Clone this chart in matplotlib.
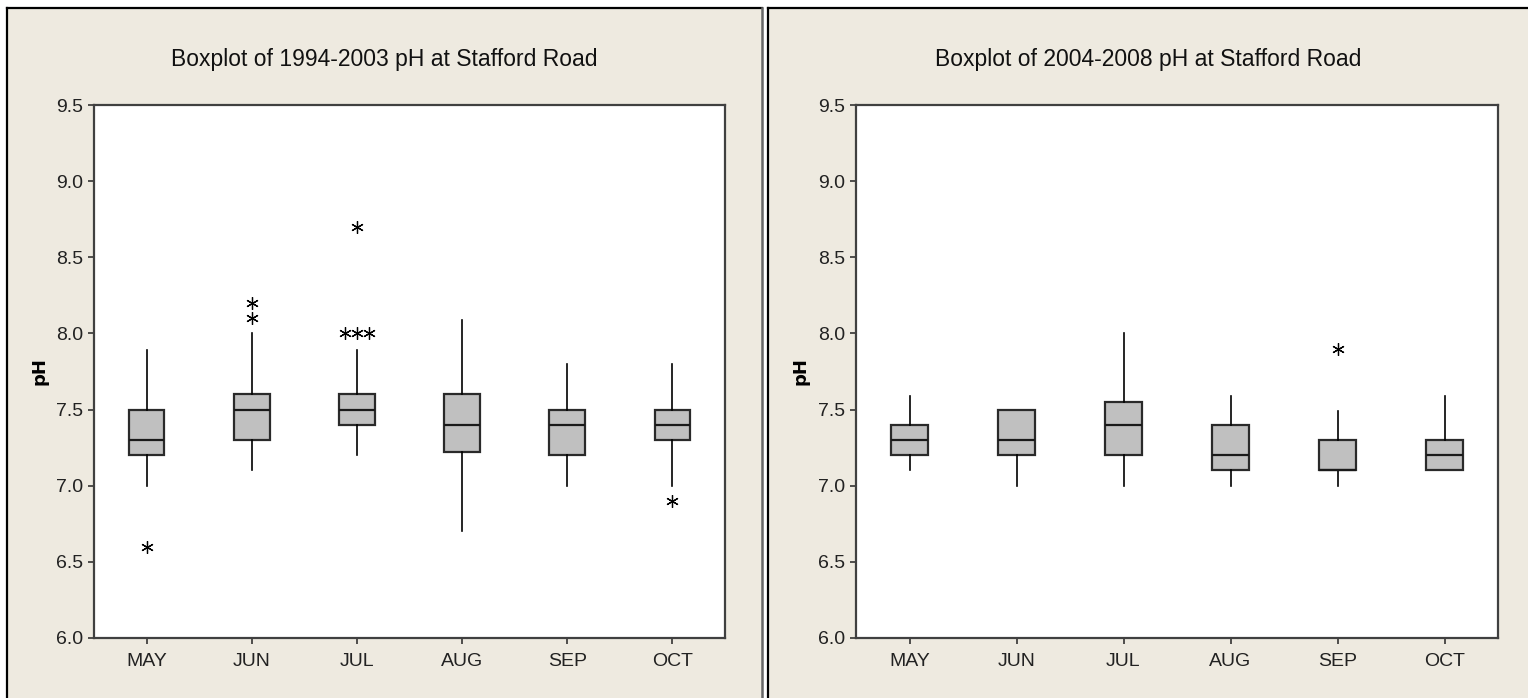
import numpy as np
import matplotlib
matplotlib.use('Agg')
from matplotlib import pyplot as plt
from matplotlib.patches import Rectangle
from matplotlib.lines import Line2D

months = ['MAY', 'JUN', 'JUL', 'AUG', 'SEP', 'OCT']

# 1994-2003 : whisker low, q1, median, q3, whisker high, outliers
early_whislo = [7.0, 7.1, 7.2, 6.7, 7.0, 7.0]
early_q1 = [7.2, 7.3, 7.4, 7.22, 7.2, 7.3]
early_med = [7.3, 7.5, 7.5, 7.4, 7.4, 7.4]
early_q3 = [7.5, 7.6, 7.6, 7.6, 7.5, 7.5]
early_whishi = [7.89, 8.0, 7.89, 8.09, 7.8, 7.8]
early_out = [[6.6], [8.1, 8.2], [8.0, 8.0, 8.0, 8.7], [], [], [6.9]]

# 2004-2008
late_whislo = [7.1, 7.0, 7.0, 7.0, 7.0, 7.1]
late_q1 = [7.2, 7.2, 7.2, 7.1, 7.1, 7.1]
late_med = [7.3, 7.3, 7.4, 7.2, 7.1, 7.2]
late_q3 = [7.4, 7.5, 7.55, 7.4, 7.3, 7.3]
late_whishi = [7.59, 7.5, 8.0, 7.59, 7.49, 7.59]
late_out = [[], [], [], [], [7.9], []]

yticks = [6.0, 6.5, 7.0, 7.5, 8.0, 8.5, 9.0, 9.5]

W, H = 1528, 698
BEIGE = '#eeeae0'
plt.rcParams['font.family'] = ['Liberation Sans', 'DejaVu Sans']


def fx(px):
    return px / W


def fy(py):
    return 1 - py / H


def draw_panel(fig, rect, title, title_x, whislo, q1, med, q3, whishi, outliers):
    ax = fig.add_axes(rect)
    stats = []
    for i in range(len(months)):
        stats.append(dict(whislo=whislo[i], q1=q1[i], med=med[i], q3=q3[i],
                          whishi=whishi[i], fliers=[], label=months[i]))
    pos = np.arange(1, len(months) + 1)
    ax.bxp(stats, positions=pos, widths=0.34, showcaps=False, showfliers=False,
           patch_artist=True,
           boxprops=dict(facecolor='#c0c0c0', edgecolor='#2a2a2a', linewidth=1.6),
           medianprops=dict(color='#1a1a1a', linewidth=1.6),
           whiskerprops=dict(color='black', linewidth=1.2))

    # outliers, repeated values spread sideways like minitab does
    for p, vals in zip(pos, outliers):
        vals = np.array(vals)
        for v in np.unique(vals):
            k = int(np.sum(vals == v))
            offs = (np.arange(k) - (k - 1) / 2) * 0.115
            ax.plot(p + offs, [v] * k, linestyle='none', marker=(6, 2, 0),
                    markersize=9, markeredgewidth=0.9, color='black')

    ax.set_xlim(0.5, 6.5)
    ax.set_ylim(6.0, 9.5)
    ax.set_yticks(yticks)
    ax.set_yticklabels(['%.1f' % t for t in yticks])
    ax.set_xticks(pos)
    ax.set_xticklabels(months)
    ax.tick_params(direction='out', length=4.5, width=1.2, color='#333333',
                   labelsize=14, labelcolor='#222222')
    ax.tick_params(axis='y', pad=3)
    ax.tick_params(axis='x', pad=6)
    for s in ax.spines.values():
        s.set_color('#404040')
        s.set_linewidth(1.6)
    ax.set_ylabel('pH', fontsize=13, fontweight='bold', family='DejaVu Sans')
    ax.yaxis.set_label_coords(-0.072, 0.5)
    fig.text(title_x, fy(66), title, ha='center', va='baseline', fontsize=16.5,
             color='#111111')
    return ax


fig = plt.figure(figsize=(W / 100, H / 100), dpi=100, facecolor='white')

# panel backgrounds + borders
fig.add_artist(Rectangle((fx(7), 0), fx(762) - fx(7), fy(8), transform=fig.transFigure,
                         facecolor=BEIGE, edgecolor='none', zorder=0))
fig.add_artist(Rectangle((fx(768), 0), 1 - fx(768), fy(8), transform=fig.transFigure,
                         facecolor=BEIGE, edgecolor='none', zorder=0))
for x0, x1 in [(7, 762), (768, W)]:
    fig.add_artist(Line2D([fx(x0), fx(x1)], [fy(8), fy(8)], transform=fig.transFigure,
                          color='black', linewidth=1.6))
    fig.add_artist(Line2D([fx(x0), fx(x0)], [fy(8), 0], transform=fig.transFigure,
                          color='black', linewidth=1.6))
fig.add_artist(Line2D([fx(762), fx(762)], [fy(8), 0], transform=fig.transFigure,
                      color='#666666', linewidth=1.8))

ax_bot = fy(638)
ax_h = (638 - 105) / H
draw_panel(fig, [fx(94), ax_bot, (725 - 94) / W, ax_h],
           'Boxplot of 1994-2003 pH at Stafford Road', fx(384.5),
           early_whislo, early_q1, early_med, early_q3, early_whishi, early_out)
draw_panel(fig, [fx(856), ax_bot, (1498 - 856) / W, ax_h],
           'Boxplot of 2004-2008 pH at Stafford Road', fx(1148),
           late_whislo, late_q1, late_med, late_q3, late_whishi, late_out)

fig.savefig('out.png', dpi=100, facecolor='white')
